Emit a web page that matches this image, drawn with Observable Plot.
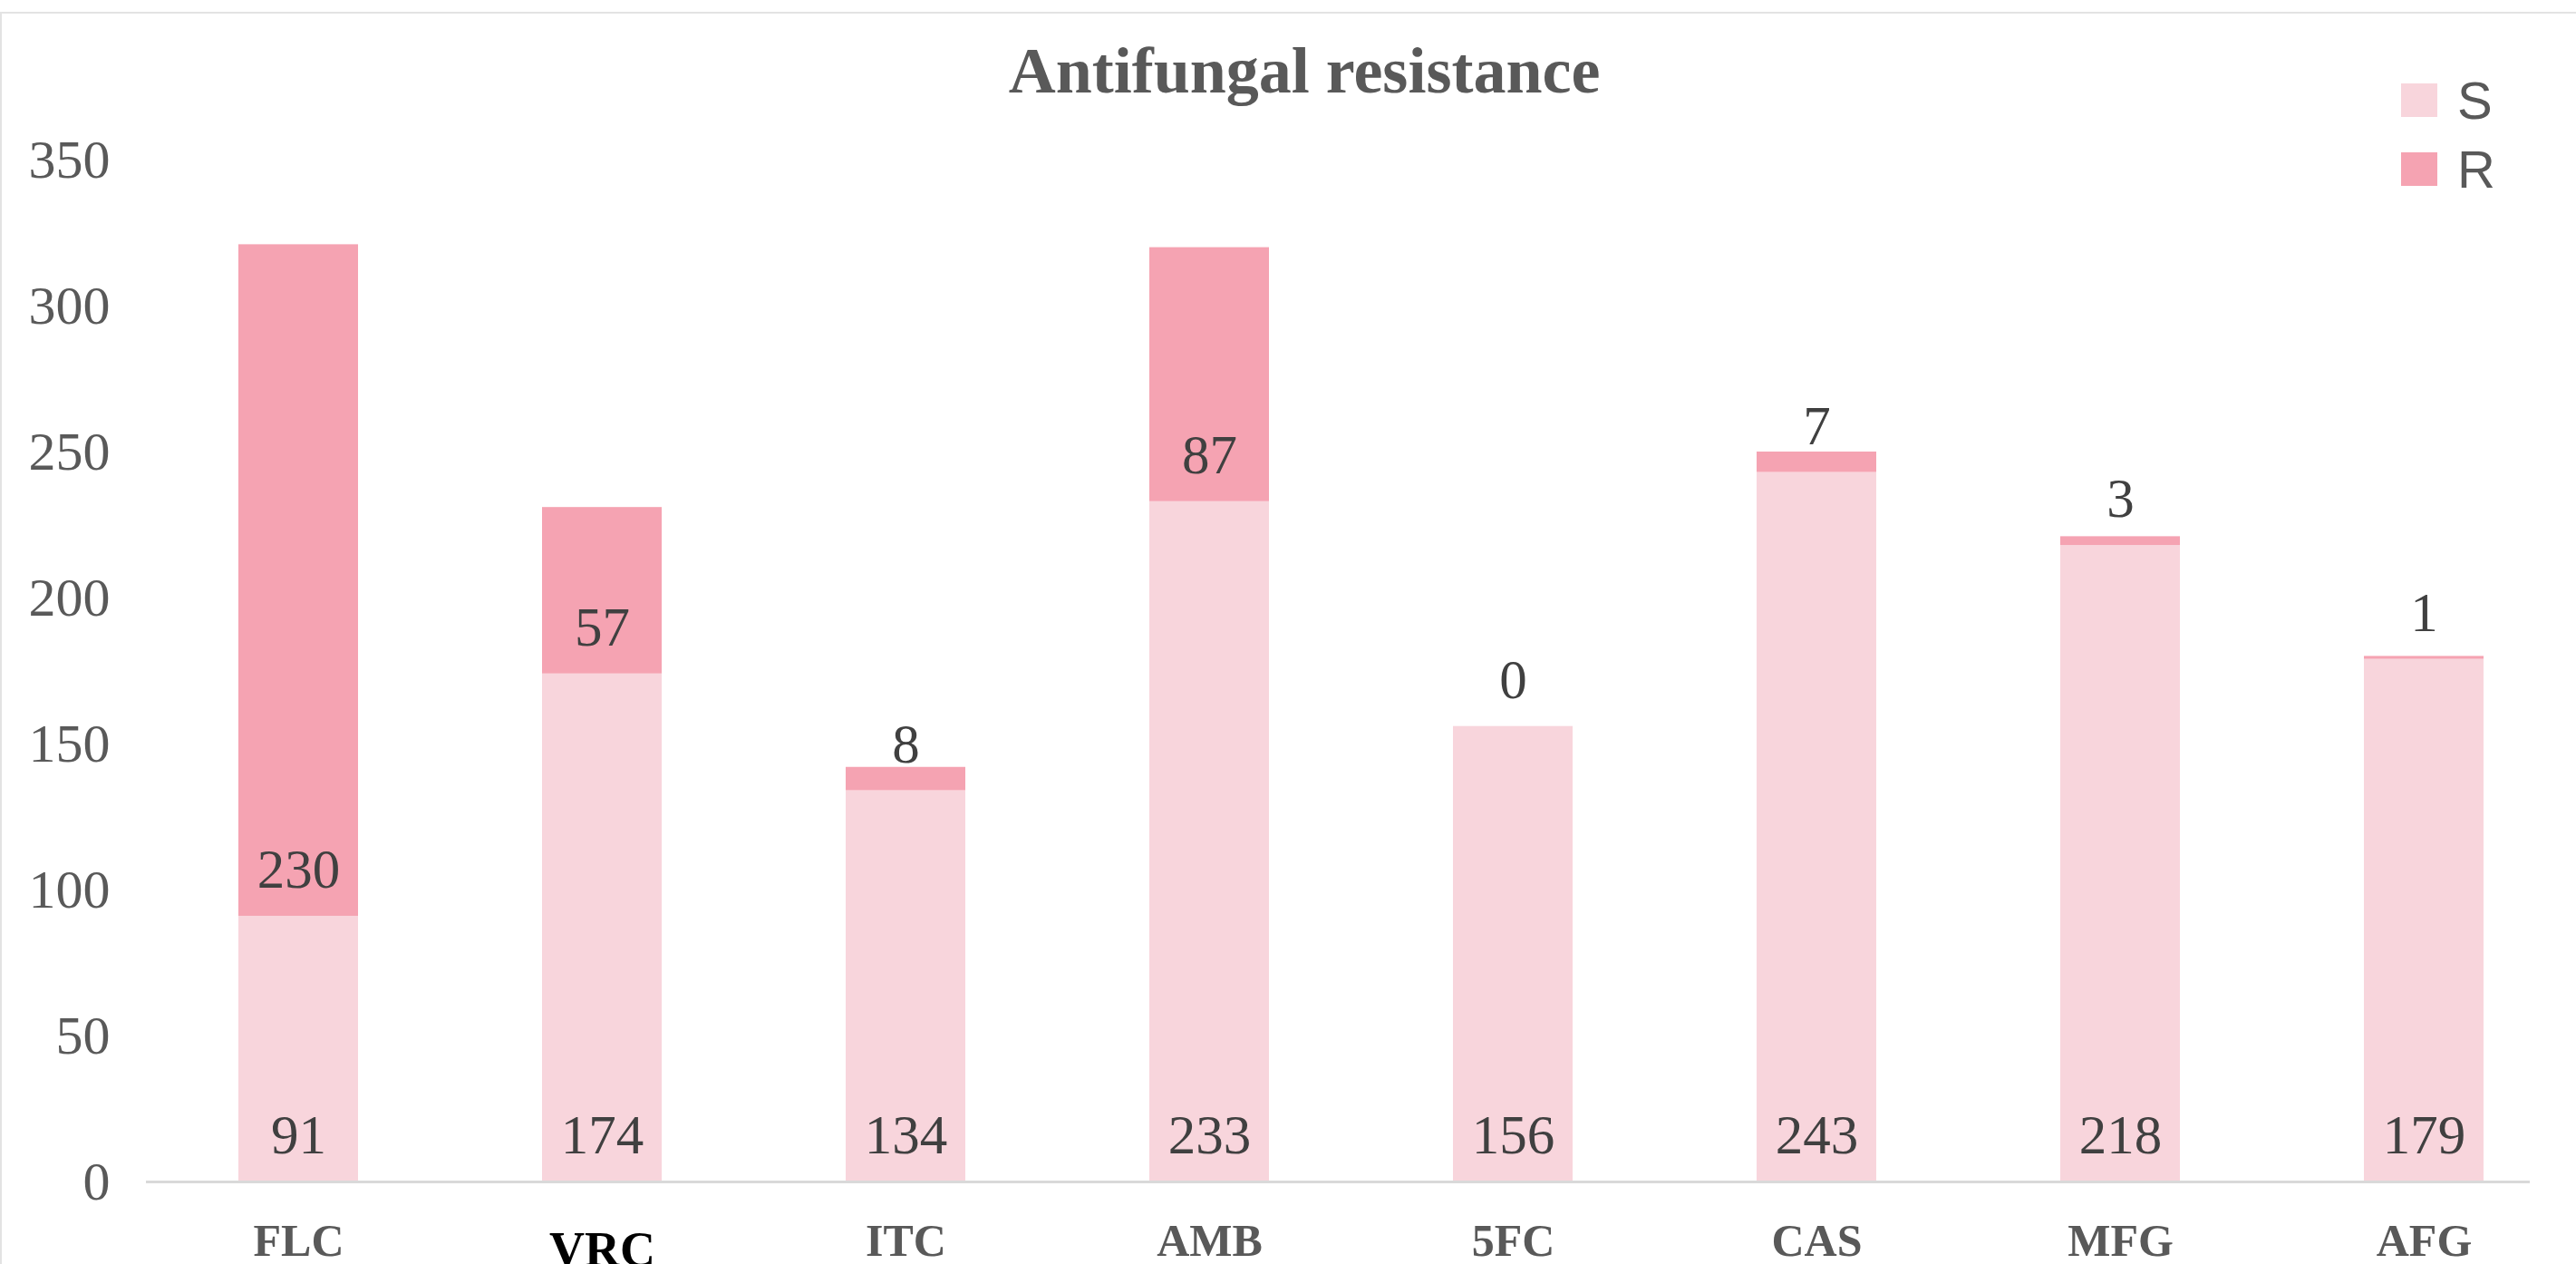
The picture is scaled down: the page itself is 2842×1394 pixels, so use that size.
<!DOCTYPE html>
<html>
<head>
<meta charset="utf-8">
<script src="https://cdn.jsdelivr.net/npm/d3@7"></script>
<script src="https://cdn.jsdelivr.net/npm/@observablehq/plot@0.6"></script>
<style>
  html, body { margin: 0; padding: 0; background: #fff; }
  #chart { position: relative; width: 2842px; height: 1394px; overflow: hidden; }
  #frame { position: absolute; left: 0; top: 13px; right: -2px; bottom: -2px; border-top: 2px solid #e3e3e3; border-left: 2px solid #e3e3e3; pointer-events: none; }
  #title { position: absolute; left: 18px; width: 2842px; top: 38px; text-align: center; font-family: "Liberation Serif", "Times New Roman", serif; font-weight: bold; font-size: 72px; color: #595959; line-height: 80px; }
  #legend { position: absolute; left: 2649px; top: 72px; font-family: "Liberation Sans", Arial, sans-serif; font-size: 58px; color: #595959; }
  .item { display: flex; align-items: center; height: 76px; }
  .sw { width: 40px; height: 37px; margin-right: 22px; }
  svg { position: absolute; left: 0; top: 0; }
</style>
</head>
<body>
<div id="chart">
  <div id="title">Antifungal resistance</div>
  <div id="legend"></div>
  <div id="frame"></div>
</div>
<script>
const categories = ["FLC", "VRC", "ITC", "AMB", "5FC", "CAS", "MFG", "AFG"];
const susceptible = [91, 174, 134, 233, 156, 243, 218, 179];
const resistant = [230, 57, 8, 87, 0, 7, 3, 1];
const seriesNames = ["S", "R"];
const seriesColors = ["#f8d5dc", "#f5a3b2"];
const yTicks = [0, 50, 100, 150, 200, 250, 300, 350];

const rows = [];
categories.forEach((c, i) => {
  rows.push({cat: c, type: "S", value: susceptible[i]});
  rows.push({cat: c, type: "R", value: resistant[i]});
});

const serif = '"Liberation Serif", "Times New Roman", serif';

const plot = Plot.plot({
  width: 2842,
  height: 1394,
  marginLeft: 161,
  marginRight: 51,
  marginTop: 176,
  marginBottom: 91,
  style: {background: "transparent", fontFamily: serif},
  x: {domain: categories, range: [161.5, 2842], paddingInner: 0.605, paddingOuter: 0.3025, axis: null},
  y: {domain: [0, 350], axis: null},
  color: {domain: seriesNames, range: seriesColors},
  marks: [
    Plot.barY(rows, Plot.stackY({x: "cat", y: "value", z: "type", fill: "type", order: seriesNames})),
    Plot.ruleY([0], {stroke: "#d9d9d9", strokeWidth: 3}),
    Plot.text(rows, Plot.stackY1({x: "cat", y: "value", z: "type", order: seriesNames, text: d => String(d.value), dy: -51, fill: "#404040", fontSize: 61, fontFamily: serif})),
    Plot.axisY({ticks: yTicks, tickSize: 0, tickPadding: 40, fontSize: 60, fill: "#595959", fontFamily: serif, label: null}),
    Plot.text(categories.filter(c => c !== "VRC"), {x: d => d, y: () => 0, dy: 65, fontSize: 50, fontWeight: "bold", fill: "#595959", fontFamily: serif}),
    Plot.text(categories.filter(c => c === "VRC"), {x: d => d, y: () => 0, dy: 75, fontSize: 54, fontWeight: "bold", fill: "#000000", fontFamily: serif})
  ]
});
document.getElementById("chart").insertBefore(plot, document.getElementById("frame"));

const legend = document.getElementById("legend");
seriesNames.forEach((n, i) => {
  const item = document.createElement("div");
  item.className = "item";
  const sw = document.createElement("div");
  sw.className = "sw";
  sw.style.background = seriesColors[i];
  const lab = document.createElement("span");
  lab.textContent = n;
  item.appendChild(sw);
  item.appendChild(lab);
  legend.appendChild(item);
});
</script>
</body>
</html>
